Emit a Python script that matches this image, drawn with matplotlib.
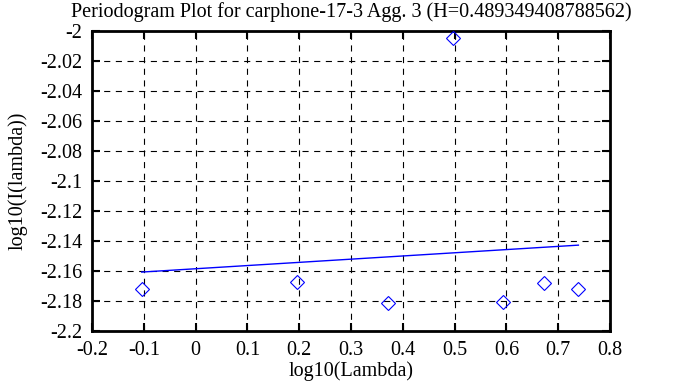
import matplotlib
matplotlib.use("Agg")
import matplotlib.pyplot as plt
import numpy as np

plt.rcParams['font.family'] = ['Liberation Serif', 'DejaVu Serif']

# Data
log_lambda = [-0.104, 0.196, 0.372, 0.496, 0.594, 0.673, 0.739]
log_I = [-2.1722, -2.1675, -2.1811, -2.0049, -2.1809, -2.1678, -2.1722]
fit_slope = 0.0213
fit_intercept = -2.1585
x_ticks = [-0.2, -0.1, 0, 0.1, 0.2, 0.3, 0.4, 0.5, 0.6, 0.7, 0.8]
x_tick_labels = ['-0.2', '-0.1', '0', '0.1', '0.2', '0.3', '0.4', '0.5', '0.6', '0.7', '0.8']
y_ticks = [-2.2, -2.18, -2.16, -2.14, -2.12, -2.1, -2.08, -2.06, -2.04, -2.02, -2]
y_tick_labels = ['-2.2', '-2.18', '-2.16', '-2.14', '-2.12', '-2.1', '-2.08', '-2.06', '-2.04', '-2.02', '-2']
title = 'Periodogram Plot for carphone-17-3 Agg. 3 (H=0.489349408788562)'

fig = plt.figure(figsize=(6.73, 3.87), dpi=100)
ax = fig.add_axes([92/673, 1-331/387, (610-92)/673, 300/387])

ax.plot(log_lambda, log_I, linestyle='none', marker='D', markersize=6.8,
        markerfacecolor='none', markeredgecolor='#0000ff', markeredgewidth=0.8, zorder=3)
fx = np.array([min(log_lambda), max(log_lambda)])
ax.plot(fx, fit_intercept + fit_slope * fx, color='#0000ff', linewidth=1.0, zorder=3)

ax.set_xlim(-0.2, 0.8)
ax.set_ylim(-2.2, -2.0)
ax.set_xticks(x_ticks)
ax.set_xticklabels(x_tick_labels)
ax.set_yticks(y_ticks)
ax.set_yticklabels(y_tick_labels)
ax.grid(True, color='black', linestyle=(0, (5.5, 5)), linewidth=0.8)
ax.tick_params(direction='in', length=6, width=1.5, top=True, right=True,
               labelsize=14.5, pad=7, colors='black')
for s in ax.spines.values():
    s.set_linewidth(2)
ax.set_xlabel('log10(Lambda)', fontsize=14.5, labelpad=1)
ax.set_ylabel('log10(I(lambda))', fontsize=14.5, labelpad=9)
ax.set_title(title, fontsize=14.5, pad=10)

fig.savefig('out.png', dpi=100)
